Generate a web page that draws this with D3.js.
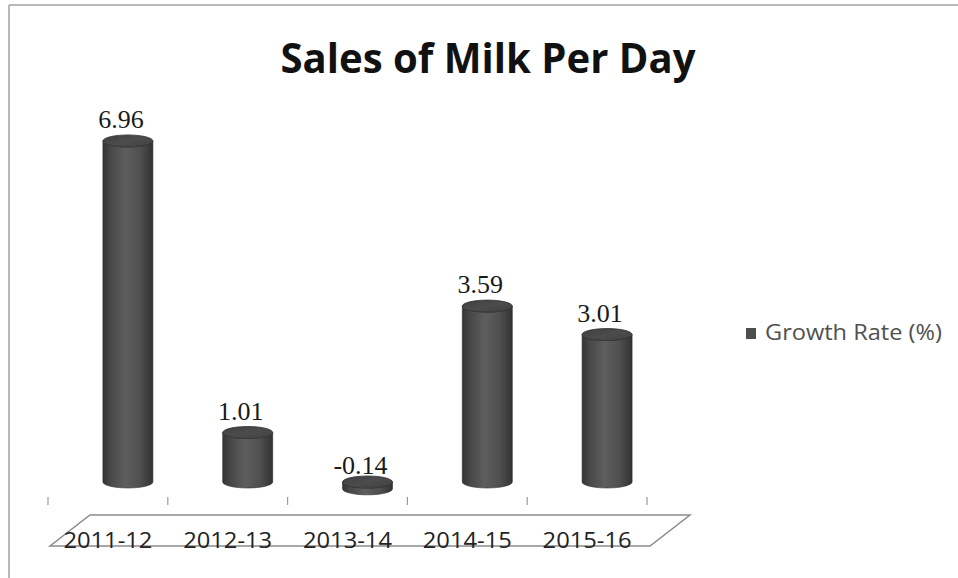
<!DOCTYPE html>
<html>
<head>
<meta charset="utf-8">
<script src="https://cdn.jsdelivr.net/npm/d3@7/dist/d3.min.js"></script>
<style>
  html, body { margin: 0; padding: 0; background: #fff; }
  svg { display: block; }
</style>
</head>
<body>
<svg id="chart" width="958" height="578"></svg>
<script>
// ---- data ----
const categories = ["2011-12", "2012-13", "2013-14", "2014-15", "2015-16"];
const growthRate = [6.96, 1.01, -0.14, 3.59, 3.01];
const valueLabels = ["6.96", "1.01", "-0.14", "3.59", "3.01"];
const seriesName = "Growth Rate (%)";
const chartTitle = "Sales of Milk Per Day";

const svg = d3.select("#chart");
const W = 958, H = 578;

// frame (chart area border, clipped at right/bottom)
svg.append("line").attr("x1", 9).attr("y1", 5).attr("x2", W).attr("y2", 5)
  .attr("stroke", "#b8b8b8").attr("stroke-width", 2);
svg.append("line").attr("x1", 9).attr("y1", 5).attr("x2", 9).attr("y2", H)
  .attr("stroke", "#b8b8b8").attr("stroke-width", 2);

// title
svg.append("text")
  .attr("x", 488).attr("y", 73)
  .attr("text-anchor", "middle")
  .attr("font-family", "'Open Sans', sans-serif")
  .attr("font-weight", "bold")
  .attr("font-size", 42)
  .attr("fill", "#111")
  .attr("textLength", 415)
  .attr("lengthAdjust", "spacingAndGlyphs")
  .text(chartTitle);

// scales
const x = d3.scaleBand().domain(categories).range([48, 647]).padding(0);
const depthDX = 20;           // perspective shift of the bar row
const y = d3.scaleLinear().domain([0, 7]).range([482, 482 - 7 * 49]);
const barW = 50, ry = 6;

// floor (3D category plane)
const floorFront = 546, floorBack = 515, floorDX = 40;
const x0 = x.range()[0] + 2, x1 = x.range()[1] + 3;
svg.append("path")
  .attr("d", `M${x0},${floorFront} L${x1},${floorFront} L${x1 + floorDX},${floorBack} L${x0 + floorDX},${floorBack} Z`)
  .attr("fill", "none").attr("stroke", "#8c8c8c").attr("stroke-width", 1.5);

// tick marks between categories
const tickXs = categories.map(c => x(c)).concat([x.range()[1]]);
svg.append("g").selectAll("line").data(tickXs).join("line")
  .attr("x1", d => d).attr("x2", d => d)
  .attr("y1", 497).attr("y2", 505)
  .attr("stroke", "#9a9a9a").attr("stroke-width", 1.2);

// category labels
svg.append("g").selectAll("text").data(categories).join("text")
  .attr("x", d => x(d) + x.bandwidth() / 2)
  .attr("y", 548)
  .attr("text-anchor", "middle")
  .attr("font-family", "'Open Sans', sans-serif")
  .attr("font-size", 22)
  .attr("fill", "#222")
  .attr("textLength", 89)
  .attr("lengthAdjust", "spacingAndGlyphs")
  .text(d => d);

// gradients for cylinders
const defs = svg.append("defs");
const g1 = defs.append("linearGradient").attr("id", "cyl").attr("x1", "0").attr("x2", "1").attr("y1", "0").attr("y2", "0");
[["0%", "#343434"], ["15%", "#474747"], ["45%", "#5e5e5e"], ["75%", "#4f4f4f"], ["100%", "#323232"]]
  .forEach(([o, c]) => g1.append("stop").attr("offset", o).attr("stop-color", c));
const g2 = defs.append("linearGradient").attr("id", "cap").attr("x1", "0").attr("x2", "1").attr("y1", "0").attr("y2", "1");
[["0%", "#3e3e3e"], ["50%", "#4c4c4c"], ["100%", "#404040"]]
  .forEach(([o, c]) => g2.append("stop").attr("offset", o).attr("stop-color", c));

const data = categories.map((c, i) => ({ c, v: growthRate[i], label: valueLabels[i] }));
const bars = svg.append("g");

data.forEach(d => {
  const cx = x(d.c) + x.bandwidth() / 2 + depthDX;
  const left = cx - barW / 2, right = cx + barW / 2, rx = barW / 2;
  const yTop = Math.min(y(d.v), y(0));
  const yBot = Math.max(y(d.v), y(0));
  bars.append("path")
    .attr("d", `M${left},${yTop} L${left},${yBot} A${rx},${ry} 0 0 0 ${right},${yBot} L${right},${yTop} A${rx},${ry} 0 0 1 ${left},${yTop} Z`)
    .attr("fill", "url(#cyl)")
    .attr("stroke", "#2e2e2e").attr("stroke-width", 0.6);
  bars.append("ellipse")
    .attr("cx", cx).attr("cy", yTop).attr("rx", rx).attr("ry", ry)
    .attr("fill", "url(#cap)")
    .attr("stroke", "#2f2f2f").attr("stroke-width", 0.8);
  bars.append("text")
    .attr("x", cx - 7)
    .attr("y", d.v >= 0 ? y(d.v) - 13 : y(0) - 8)
    .attr("text-anchor", "middle")
    .attr("font-family", "'Liberation Serif', 'Times New Roman', serif")
    .attr("font-size", 26)
    .attr("fill", "#1a1a1a")
    .text(d.label);
});

// legend
svg.append("rect").attr("x", 746).attr("y", 328).attr("width", 10).attr("height", 11)
  .attr("fill", "#4d4d4d");
svg.append("text")
  .attr("x", 765).attr("y", 340)
  .attr("font-family", "'Open Sans', sans-serif")
  .attr("font-size", 21)
  .attr("fill", "#505050")
  .attr("textLength", 177)
  .attr("lengthAdjust", "spacingAndGlyphs")
  .text(seriesName);
</script>
</body>
</html>
